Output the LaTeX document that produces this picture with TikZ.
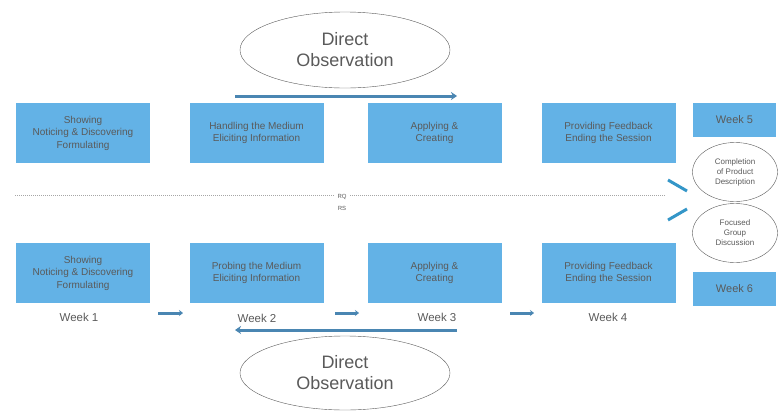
\documentclass[tikz,border=0pt]{standalone}
\usepackage{fontspec}
\setmainfont{Liberation Sans}
\usetikzlibrary{arrows.meta,shapes.geometric}
\definecolor{boxblue}{RGB}{99,178,230}
\definecolor{lineblue}{RGB}{74,134,178}
\definecolor{slantblue}{RGB}{52,150,200}
\definecolor{txtgray}{RGB}{90,90,90}
\tikzset{
  phase/.style={fill=boxblue, minimum width=134pt, minimum height=60pt, inner sep=1pt,
    align=center, text=txtgray, font=\fontsize{10}{12.5}\selectfont},
  weekbox/.style={phase, minimum width=83pt, minimum height=34pt, font=\fontsize{11}{12}\selectfont},
  weeklbl/.style={text=txtgray, font=\fontsize{11.5}{12}\selectfont},
  oval/.style={ellipse, draw=txtgray, thin, inner sep=0pt, align=center, text=txtgray},
  flow/.style={draw=lineblue, line width=3pt, -{Stealth[length=6pt,width=8pt]}},
  step arrow/.style={draw=lineblue, line width=3pt, -{Stealth[length=4pt,width=6pt]}}
}

\begin{document}
\begin{tikzpicture}[x=1pt, y=-1pt]
    \useasboundingbox (0,0) rectangle (779,410);
    % top row
    \node[oval, minimum width=210pt, minimum height=76pt, font=\fontsize{18}{21}\selectfont] (obsT) at (345,50){Direct\\Observation};
    \coordinate (flowTa) at (235,96);
    \coordinate (flowTb) at (457,96);
    \draw[flow] (flowTa)--(flowTb);
    \node[phase] (T1) at (83,133){Showing\\Noticing \& Discovering\\Formulating};
    \node[phase] (T2) at (256.5,133){Handling the Medium\\Eliciting Information};
    \node[phase] (T3) at (434.5,133){Applying \&\\Creating};
    \node[phase] (T4) at (608.5,133){Providing Feedback\\Ending the Session};
    \node[weekbox] (W5) at (734.5,120){Week 5};
    % middle
    \node[oval, minimum width=85pt, minimum height=59pt, font=\fontsize{8}{10}\selectfont] (comp) at (735,172){Completion\\of Product\\Description};
    \node[oval, minimum width=85pt, minimum height=59pt, font=\fontsize{8}{10}\selectfont] (focus) at (735,233){Focused\\Group\\Discussion};
    \coordinate (dotA) at (15,195);
    \coordinate (dotB) at (665,195);
    \node[text=txtgray, align=center, font=\fontsize{6}{12}\selectfont] (rq) at (342,202){RQ\\RS};
    \draw[gray!70, dash pattern=on 1pt off 1pt, thick] (dotA)--(rq.west |- dotA);
    \draw[gray!70, dash pattern=on 1pt off 1pt, thick] (rq.east |- dotB)--(dotB);
    \coordinate (sUa) at (668,180);
    \coordinate (sUb) at (687,191);
    \coordinate (sLa) at (668,220);
    \coordinate (sLb) at (687,209);
    \draw[slantblue, line width=3pt] (sUa)--(sUb);
    \draw[slantblue, line width=3pt] (sLa)--(sLb);
    % bottom row
    \node[phase] (B1) at (83,273){Showing\\Noticing \& Discovering\\Formulating};
    \node[phase] (B2) at (256.5,273){Probing the Medium\\Eliciting Information};
    \node[phase] (B3) at (434.5,273){Applying \&\\Creating};
    \node[phase] (B4) at (608.5,273){Providing Feedback\\Ending the Session};
    \node[weekbox] (W6) at (734.5,288.5){Week 6};
    \node[weeklbl] (wk1) at (79,317){Week 1};
    \node[weeklbl] (wk2) at (257,318){Week 2};
    \node[weeklbl] (wk3) at (437,317){Week 3};
    \node[weeklbl] (wk4) at (608,317){Week 4};
    \draw[step arrow] (158,313) coordinate (a1)--(183,313) coordinate (a1e);
    \draw[step arrow] (335,313) coordinate (a2)--(359,313) coordinate (a2e);
    \draw[step arrow] (510,313) coordinate (a3)--(534,313) coordinate (a3e);
    \coordinate (flowBa) at (235,330);
    \coordinate (flowBb) at (457,330);
    \draw[flow] (flowBb)--(flowBa);
    \node[oval, minimum width=210pt, minimum height=74pt, font=\fontsize{18}{21}\selectfont] (obsB) at (345,373){Direct\\Observation};
  \end{tikzpicture}
\end{document}
